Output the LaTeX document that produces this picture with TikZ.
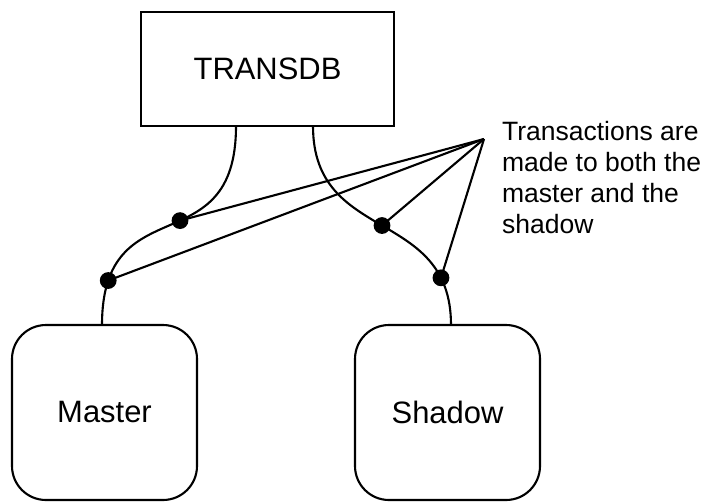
\documentclass[tikz,border=0pt]{standalone}
\usepackage{fontspec}
\setmainfont{Liberation Sans}
\usetikzlibrary{positioning,calc}

\begin{document}
\begin{tikzpicture}[line width=1.5pt]
\tikzset{block/.style={rectangle, draw, minimum width=6.325cm, minimum height=2.85cm, inner sep=0pt, outer sep=0pt, font=\fontsize{22}{26}\selectfont}}
\tikzset{store/.style={rectangle, draw, rounded corners=0.85cm, minimum width=4.625cm, minimum height=4.375cm, inner sep=0pt, outer sep=0pt, font=\fontsize{22}{26}\selectfont}}
\tikzset{dot/.style={circle, fill=black, inner sep=0pt, minimum size=0.42cm}}
\tikzset{link/.style={draw, line width=1.5pt}}
\tikzset{note/.style={align=left, inner sep=0pt, anchor=north west, font=\fontsize{18.86}{22.06}\selectfont}}

\useasboundingbox (0,0) rectangle (17.525,-12.525);

\node [block] (db) at (6.6875,-1.725) {TRANSDB};
\node [store] (master) at (2.6125,-10.3125) {Master};
\node [store, right=3.95cm of master] (shadow) {Shadow};

\path [link] ([xshift=-0.7875cm]db.south) to[out=-90, in=90, looseness=1.5]
  node[dot, pos=0.445] (d1) {} node[dot, pos=0.87] (d2) {} ([xshift=-0.0625cm]master.north);
\path [link] ([xshift=1.1375cm]db.south) to[out=-90, in=90, looseness=1.25]
  node[dot, pos=0.5] (d3) {} node[dot, pos=0.835] (d4) {} ([xshift=0.0875cm]shadow.north);

\node [note] (note) at (12.525,-3.0) {Transactions are\\made to both the\\master and the\\shadow};
\coordinate (tip) at (12.1,-3.475);
\foreach \d in {d1,d2,d3,d4}
  \path [link] (tip) -- (\d.center);
\end{tikzpicture}
\end{document}
